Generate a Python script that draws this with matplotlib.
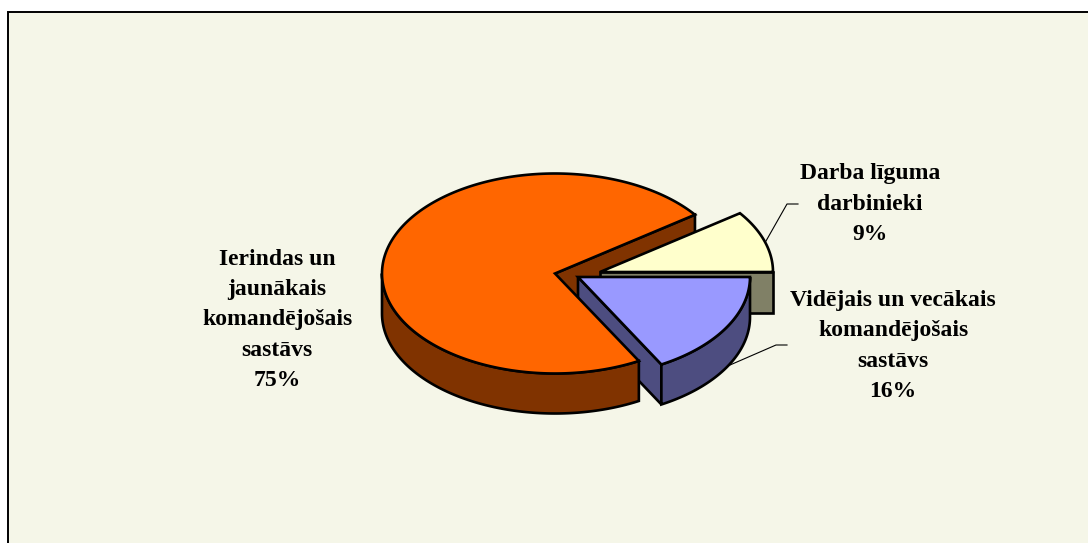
import matplotlib
matplotlib.use("Agg")
import matplotlib.pyplot as plt
import numpy as np

labels = ["Ierindas un\njaunākais\nkomandējošais\nsastāvs\n75%",
          "Darba līguma\ndarbinieki\n9%",
          "Vidējais un vecākais\nkomandējošais\nsastāvs\n16%"]
shares = [75, 9, 16]

BG = "#F5F6E8"
DEPTH = 40
SQUASH = 1.145  # the 3d view stretches angles a bit


def project(theta, cx, cy, rx, ry):
    t = np.radians(theta)
    phi = np.arctan2(SQUASH * np.sin(t), np.cos(t))
    return cx + rx * np.cos(phi), cy - ry * np.sin(phi)


def arc(a, b, cx, cy, rx, ry):
    return project(np.linspace(a, b, 200), cx, cy, rx, ry)


def poly(ax, xs, ys, color):
    ax.fill(xs, ys, facecolor=color, edgecolor="black", linewidth=1.9, joinstyle="miter")


fig = plt.figure(figsize=(10.88, 5.43), dpi=100, facecolor="white")
ax = fig.add_axes([0, 0, 1, 1])
ax.set_xlim(0, 1088)
ax.set_ylim(543, 0)
ax.axis("off")

# chart area, only left and top border show in the crop
ax.fill([8, 1090, 1090, 8], [12, 12, 545, 545], facecolor=BG, edgecolor="black", linewidth=1.4)

main_a = shares[1] * 3.6
main_b = 360 - shares[2] * 3.6

# big slice: the cut face behind the others goes first
cx, cy, rx, ry = 555, 273.5, 173, 100
ex, ey = project(main_a, cx, cy, rx, ry)
poly(ax, [cx, ex, ex, cx], [cy, ey, ey + DEPTH, cy + DEPTH], "#803300")

# small yellow slice
yx, yy, yrx, yry = 600, 272, 173, 100
xs, ys = arc(0, main_a, yx, yy, yrx, yry)
poly(ax, [yx, xs[0], xs[0], yx], [yy, yy, yy + DEPTH + 1, yy + DEPTH + 1], "#808066")
poly(ax, np.r_[yx, xs], np.r_[yy, ys], "#FFFFCC")

# blue slice
bx, by, brx, bry = 578, 277, 172, 100
xs, ys = arc(main_b - 360, 0, bx, by, brx, bry)
poly(ax, [bx, xs[0], xs[0], bx], [by, ys[0], ys[0] + DEPTH, by + DEPTH], "#4D4D80")
poly(ax, np.r_[xs, xs[::-1]], np.r_[ys, ys[::-1] + DEPTH], "#4D4D80")
poly(ax, np.r_[bx, xs], np.r_[by, ys], "#9999FF")

# big slice outer wall and top
xs, ys = arc(180, main_b, cx, cy, rx, ry)
poly(ax, np.r_[xs, xs[::-1]], np.r_[ys, ys[::-1] + DEPTH], "#803300")
xs, ys = arc(main_a, main_b, cx, cy, rx, ry)
poly(ax, np.r_[cx, xs], np.r_[cy, ys], "#FF6600")

# leader lines
ax.plot([766, 787, 798], [241, 204, 204], color="black", linewidth=0.8)
ax.plot([730, 776, 787], [365, 345, 345], color="black", linewidth=0.8)

font = dict(family="Liberation Serif", fontweight="bold", fontsize=17, ha="center",
            va="center", linespacing=1.59, color="black")
ax.text(277, 320, labels[0], **font)
ax.text(870, 204, labels[1], **font)
ax.text(893, 346, labels[2], **font)

plt.savefig("out.png", dpi=100, facecolor="white")
